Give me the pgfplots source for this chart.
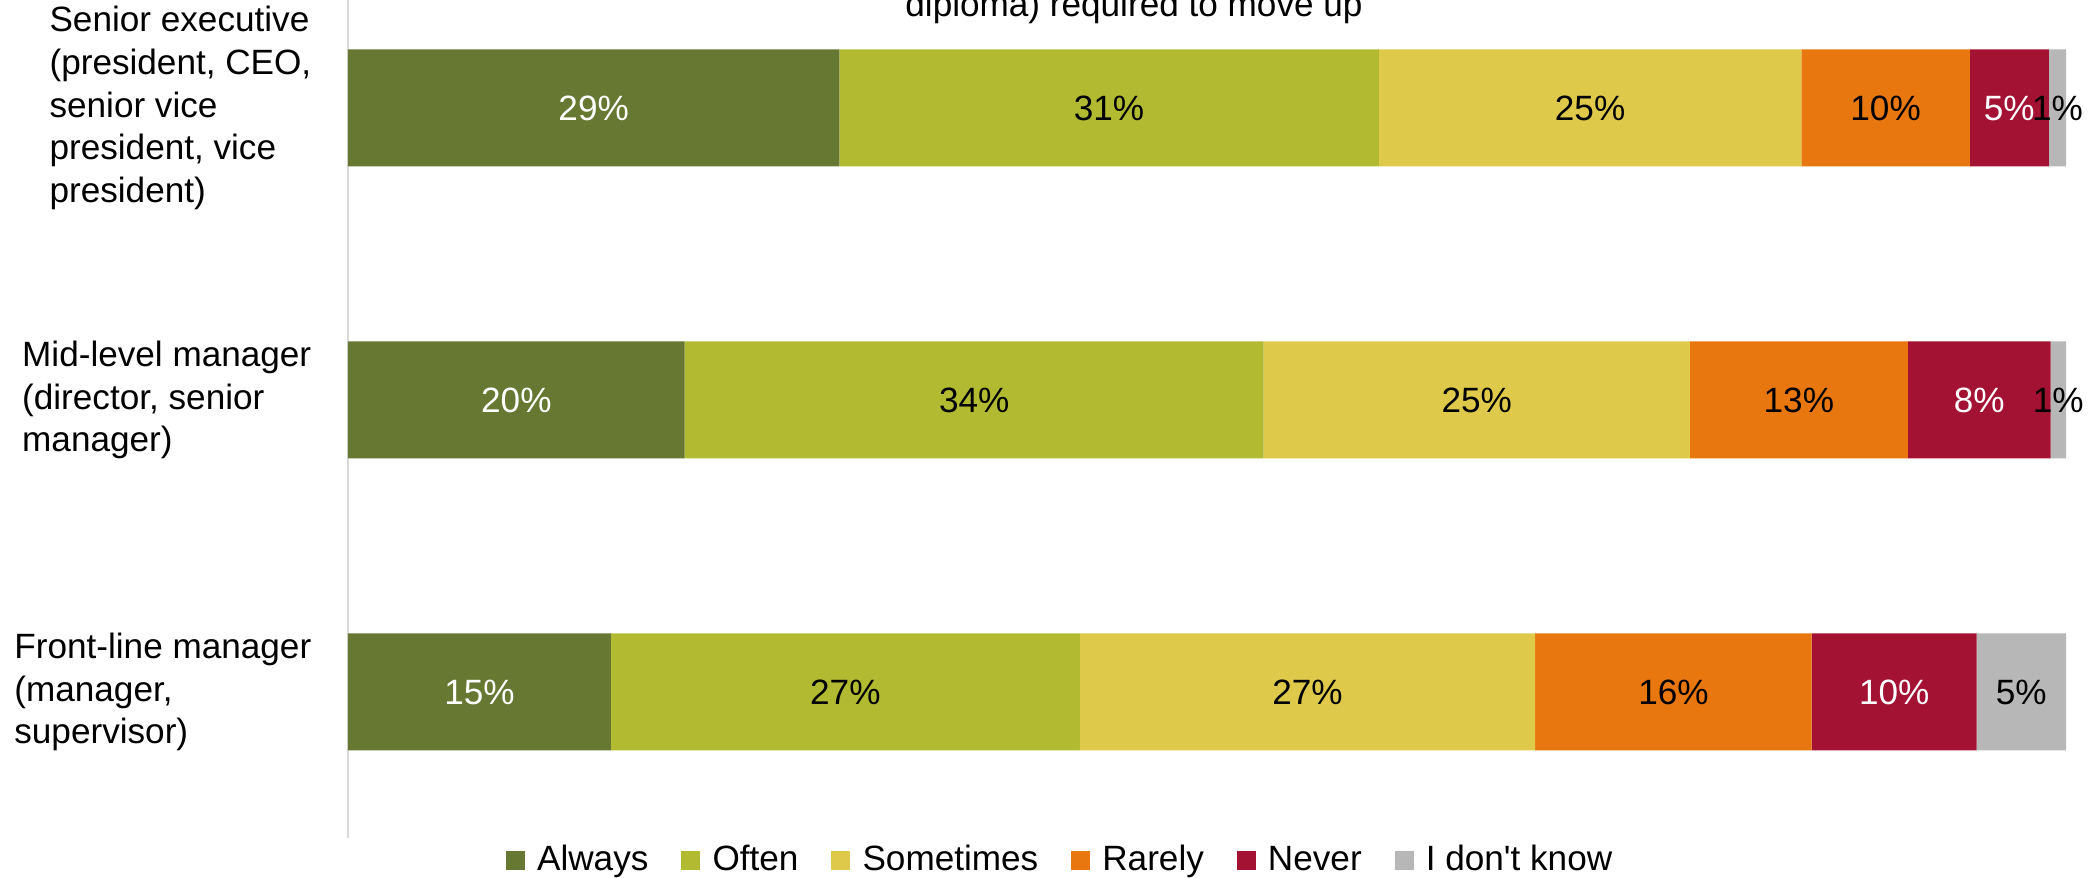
\documentclass[border=0pt]{standalone}
\usepackage{fontspec}
\setmainfont{Liberation Sans}
\newfontfamily\plainfont{Liberation Sans}
\usepackage{pgfplots}
\usepackage{pgfplotstable}
\pgfplotsset{compat=1.18}
\definecolor{cAlways}{HTML}{667832}
\definecolor{cOften}{HTML}{B2BA32}
\definecolor{cSome}{HTML}{DFC94B}
\definecolor{cRare}{HTML}{E7770E}
\definecolor{cNever}{HTML}{A31233}
\definecolor{cDK}{HTML}{B7B7B7}
\newcommand\lbl{\fontsize{10}{12.2}\selectfont}
% c: 0 = Front-line, 1 = Mid-level, 2 = Senior
\pgfplotstableread{
c v lab
0 15.3 15
1 19.6 20
2 28.6 29
}\tAlways
\pgfplotstableread{
c v lab
0 27.3 27
1 33.7 34
2 31.4 31
}\tOften
\pgfplotstableread{
c v lab
0 26.5 27
1 24.8 25
2 24.6 25
}\tSome
\pgfplotstableread{
c v lab
0 16.1 16
1 12.7 13
2 9.8 10
}\tRare
\pgfplotstableread{
c v lab
0 9.6 10
1 8.3 8
2 4.6 5
}\tNever
\pgfplotstableread{
c v lab
0 5.2 5
1 0.9 1
2 1.0 1
}\tDK
\begin{document}
\begin{tikzpicture}
\useasboundingbox (0,0) rectangle (20.97cm,8.78cm);
\clip (0,0) rectangle (20.97cm,8.78cm);
\begin{axis}[
  at={(3.48cm,0.40cm)}, anchor=south west,
  scale only axis, width=17.18cm, height=8.76cm,
  xbar stacked, bar width=1.17cm,
  xmin=0, xmax=100, ymin=-0.5, ymax=2.5,
  enlargelimits=false, clip=false,
  axis x line=none, axis y line*=left,
  y axis line style={draw=black!15, line width=0.6pt},
  xtick=\empty, ytick={0,1,2},
  yticklabels={{Front-line manager\\(manager,\\supervisor)},{Mid-level manager\\(director, senior\\manager)},{Senior executive\\(president, CEO,\\senior vice\\president, vice\\president)}},
  major tick length=0pt,
  y tick label style={align=left, anchor=east, inner sep=0pt, xshift=-0.36cm, font=\lbl},
  point meta=explicit symbolic,
  nodes near coords={\pgfplotspointmeta\%},
  every node near coord/.append style={font=\lbl, text=black, anchor=center, inner sep=0pt},
  legend columns=6,
  legend image code/.code={\fill[#1] (0cm,-0.095cm) rectangle (0.19cm,0.095cm);},
  legend style={draw=none, fill=none, font=\lbl, inner sep=0pt,
    at={(axis description cs:0.416,-0.026)}, anchor=center,
    /tikz/every odd column/.append style={column sep=0.05cm},
    /tikz/every even column/.append style={column sep=0.26cm}},
]
\addplot[fill=cAlways, draw=none, every node near coord/.append style={text=white}] table[x=v, y=c, meta=lab] {\tAlways};
\addplot[fill=cOften, draw=none] table[x=v, y=c, meta=lab] {\tOften};
\addplot[fill=cSome, draw=none] table[x=v, y=c, meta=lab] {\tSome};
\addplot[fill=cRare, draw=none] table[x=v, y=c, meta=lab] {\tRare};
\addplot[fill=cNever, draw=none, every node near coord/.append style={text=white}] table[x=v, y=c, meta=lab] {\tNever};
\addplot[fill=cDK, draw=none] table[x=v, y=c, meta=lab] {\tDK};
\legend{Always,Often,Sometimes,Rarely,Never,{\plainfont I don't know}}
\end{axis}
\node[anchor=base, font=\lbl] at (11.34cm,8.61cm) {diploma) required to move up};
\end{tikzpicture}
\end{document}
